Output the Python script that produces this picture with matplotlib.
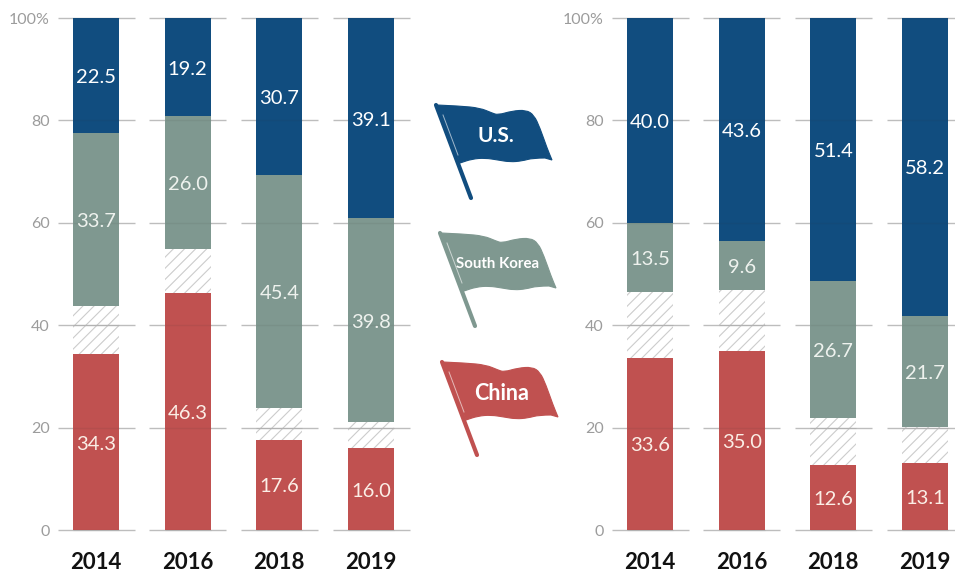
import matplotlib
matplotlib.use("Agg")
import matplotlib.pyplot as plt
from matplotlib.path import Path
from matplotlib.patches import PathPatch

plt.rcParams['font.family'] = ['Lato', 'DejaVu Sans']
plt.rcParams['hatch.linewidth'] = 0.8
plt.rcParams['hatch.color'] = '#cccccc'

W, H = 955, 576
years = ['2014', '2016', '2018', '2019']
yticks = [0, 20, 40, 60, 80, 100]
ytick_labels = ['0', '20', '40', '60', '80', '100%']

us_left = [22.5, 19.2, 30.7, 39.1]
korea_left = [33.7, 26.0, 45.4, 39.8]
china_left = [34.3, 46.3, 17.6, 16.0]

us_right = [40.0, 43.6, 51.4, 58.2]
korea_right = [13.5, 9.6, 26.7, 21.7]
china_right = [33.6, 35.0, 12.6, 13.1]

NAVY = '#114d7f'
GREY = '#7f9890'
RED = '#c05150'
GRID = '#bdbdbd'
STEP = 91.67      # pixels between neighbouring columns
BAR = 46.0        # column width in pixels
HALF_GRID = 38.5  # half-length of a gridline segment in pixels
PX = 0.72         # points per pixel at 100 dpi

fig = plt.figure(figsize=(W / 100, H / 100), dpi=100, facecolor='white')


def value_label(ax, x, y, value, color):
    ax.annotate(f'{value:.1f}', (x, y), xytext=(0, -2 * PX), textcoords='offset points',
                color=color, ha='center', va='center', fontsize=14.5, zorder=5)


def panel(first_center, us, korea, china, tick_x):
    left = first_center - HALF_GRID
    right = first_center + 3 * STEP + HALF_GRID
    top, bottom = 18, 530
    ax = fig.add_axes([left / W, 1 - bottom / H, (right - left) / W, (bottom - top) / H])
    ax.set_xlim(-HALF_GRID / STEP, 3 + HALF_GRID / STEP)
    ax.set_ylim(0, 100)
    ax.patch.set_alpha(0)
    for s in ax.spines.values():
        s.set_visible(False)
    width = BAR / STEP
    for i, year in enumerate(years):
        u, k, c = us[i], korea[i], china[i]
        ax.bar(i, c, width, color=RED, zorder=3)
        ax.bar(i, 100 - u - k - c, width, bottom=c, facecolor='white',
               edgecolor='#cccccc', hatch='///', linewidth=0, zorder=0.5)
        ax.bar(i, k, width, bottom=100 - u - k, color=GREY, zorder=3)
        ax.bar(i, u, width, bottom=100 - u, color=NAVY, zorder=3)
        value_label(ax, i, c / 2, c, '#fbeee6')
        value_label(ax, i, 100 - u - k / 2, k, '#eef2ee')
        value_label(ax, i, 100 - u / 2, u, 'white')
        # short gridline behind each column, faintly visible through the fill
        for t in yticks:
            ax.plot([i - HALF_GRID / STEP, i + HALF_GRID / STEP], [t, t],
                    color=GRID, lw=1.0, zorder=1, solid_capstyle='butt', clip_on=False)
            ax.plot([i - BAR / 2 / STEP, i + BAR / 2 / STEP], [t, t],
                    color='#333333', lw=1.0, alpha=0.08, zorder=4,
                    solid_capstyle='butt', clip_on=False)
    ax.set_xticks(range(4), years, fontsize=16, fontweight='bold', color='#111111')
    ax.set_yticks(yticks, ytick_labels, fontsize=11.5, color='#9c9c9c')
    ax.tick_params(axis='x', length=0, pad=16)
    ax.tick_params(axis='y', length=0, pad=(left - tick_x) * PX)


panel(96, us_left, korea_left, china_left, 50)
panel(650, us_right, korea_right, china_right, 604)

# overlay in pixel coordinates for the three flags
ov = fig.add_axes([0, 0, 1, 1])
ov.set_xlim(0, W)
ov.set_ylim(H, 0)
ov.axis('off')
ov.patch.set_alpha(0)

FLAG_TOP = [(437, 105), (460, 106), (480, 108), (492, 113), (498, 115),
            (512, 111), (526, 110), (534, 115), (540, 128), (547, 148), (552, 160)]
FLAG_BOTTOM = [(545, 158), (533, 158), (522, 161), (510, 162), (498, 160),
               (485, 158), (472, 159), (460, 163)]


def smooth_path(points):
    # quadratic segments through the midpoints give the cloth its wave
    verts = [points[0]]
    codes = [Path.MOVETO]
    for a, b in zip(points[1:-1], points[2:]):
        mid = ((a[0] + b[0]) / 2, (a[1] + b[1]) / 2)
        verts += [a, mid]
        codes += [Path.CURVE3, Path.CURVE3]
    verts.append(points[-1])
    codes.append(Path.LINETO)
    return verts, codes


def flag(dx, dy, color, label, size, text_dx=0):
    top = [(x + dx, y + dy) for x, y in FLAG_TOP]
    bottom = [(x + dx, y + dy) for x, y in FLAG_BOTTOM]
    v1, c1 = smooth_path(top)
    v2, c2 = smooth_path(bottom)
    c2[0] = Path.LINETO
    verts = v1 + v2 + [v1[0]]
    codes = c1 + c2 + [Path.CLOSEPOLY]
    ov.add_patch(PathPatch(Path(verts, codes), facecolor=color, edgecolor=color, lw=0.8))
    ov.plot([436 + dx, 471 + dx], [105 + dy, 198 + dy], color=color, lw=3.0,
            solid_capstyle='round')
    ov.plot([443 + dx, 458 + dx], [115 + dy, 155 + dy], color='white', lw=0.7, alpha=0.6)
    ov.text(496 + dx + text_dx, 136 + dy, label, color='white', ha='center',
            va='center', fontsize=size, fontweight='bold')


flag(0, 0, NAVY, 'U.S.', 15)
flag(4, 128, GREY, 'South Korea', 10.8, text_dx=-2)
flag(6, 257, RED, 'China', 15.5)

fig.savefig('out.png', dpi=100, facecolor='white')
